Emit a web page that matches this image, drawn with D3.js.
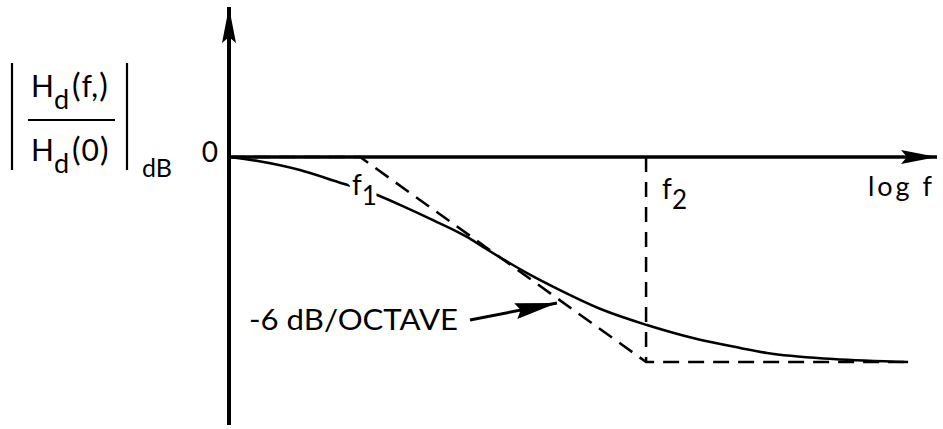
<!DOCTYPE html>
<html>
<head>
<meta charset="utf-8">
<script src="https://cdn.jsdelivr.net/npm/d3@7"></script>
<style>
  html, body { margin: 0; padding: 0; background: #fff; }
  svg { display: block; }
  text { font-family: Lato, "Noto Sans", sans-serif; fill: #000; }
</style>
</head>
<body>
<svg id="chart" width="943" height="429"></svg>
<script>
// Frequency axis in decades relative to f1 (log10(f/f1)); magnitude in dB.
const responseLogF = [-0.458, -0.357, -0.210, -0.077, 0.042, 0.157, 0.255, 0.374, 0.430,
                      0.584, 0.699, 0.850, 1.003, 1.164, 1.329, 1.423, 1.654, 1.916];
const responseDb   = [0, -0.39, -1.27, -2.44, -3.51, -4.88, -6.15, -7.80, -8.78,
                      -11.32, -12.98, -14.93, -16.39, -17.66, -18.63, -19.12, -19.71, -20.0];

// Straight-line (asymptotic) approximation
const asymptoteLogF = [-0.458, 0, 1, 1.916];
const asymptoteDb   = [0, 0, -20, -20];

// Break frequencies and their labels
const breakLogF   = [0, 1];
const breakLabels = ["f", "f"];
const breakSubs   = ["1", "2"];

const yTickDb    = [0];
const yTickLabel = ["0"];

const svg = d3.select("#chart");

const x = d3.scaleLinear().domain([-0.458, 2.017]).range([229, 937]);
const y = d3.scaleLinear().domain([0, -20]).range([157, 362]);
const yTop = 14.63, yBottom = -26.15;

const defs = svg.append("defs");
defs.append("marker")
  .attr("id", "axisHead").attr("viewBox", "0 0 36 14")
  .attr("refX", 36).attr("refY", 7)
  .attr("markerWidth", 36).attr("markerHeight", 14)
  .attr("markerUnits", "userSpaceOnUse").attr("orient", "auto")
  .append("path").attr("d", "M0,0 L36,7 L0,14 L6,7 Z").attr("fill", "#000");
defs.append("marker")
  .attr("id", "noteHead").attr("viewBox", "0 0 42 16")
  .attr("refX", 42).attr("refY", 8)
  .attr("markerWidth", 42).attr("markerHeight", 16)
  .attr("markerUnits", "userSpaceOnUse").attr("orient", "auto")
  .append("path").attr("d", "M0,0 L42,8 L0,16 L5,8 Z").attr("fill", "#000");

// Axes
svg.append("line")
  .attr("x1", x(-0.458)).attr("y1", y(yBottom))
  .attr("x2", x(-0.458)).attr("y2", y(yTop))
  .attr("stroke", "#000").attr("stroke-width", 4)
  .attr("marker-end", "url(#axisHead)");
svg.append("line")
  .attr("x1", x(-0.458)).attr("y1", y(0))
  .attr("x2", x(2.017)).attr("y2", y(0))
  .attr("stroke", "#000").attr("stroke-width", 3.5)
  .attr("marker-end", "url(#axisHead)");

// Asymptotes (dashed)
const asymPts = asymptoteLogF.map((v, i) => [v, asymptoteDb[i]]);
const line = d3.line().x(d => x(d[0])).y(d => y(d[1]));
svg.append("path")
  .attr("d", line(asymPts))
  .attr("fill", "none").attr("stroke", "#000")
  .attr("stroke-width", 2.5).attr("stroke-dasharray", "16,9");
svg.append("line")
  .attr("x1", x(breakLogF[1])).attr("y1", y(0))
  .attr("x2", x(breakLogF[1])).attr("y2", y(-20))
  .attr("stroke", "#000").attr("stroke-width", 2.5)
  .attr("stroke-dasharray", "15,10");

// Actual response
const respPts = responseLogF.map((v, i) => [v, responseDb[i]]);
svg.append("path")
  .attr("d", d3.line().x(d => x(d[0])).y(d => y(d[1])).curve(d3.curveMonotoneX)(respPts))
  .attr("fill", "none").attr("stroke", "#000").attr("stroke-width", 2.5);

// Break-frequency labels
const bl = svg.selectAll("text.brk").data(breakLogF).enter().append("text")
  .attr("class", "brk")
  .attr("x", (d, i) => x(d) + (i === 0 ? -8 : 16))
  .attr("y", (d, i) => i === 0 ? 195 : 199)
  .attr("font-size", 28)
  .style("paint-order", "stroke").attr("stroke", "#fff").attr("stroke-width", 10);
bl.append("tspan").text((d, i) => breakLabels[i]);
bl.append("tspan").attr("dy", 10).attr("font-size", 26).text((d, i) => breakSubs[i]);

svg.append("text").attr("x", 868).attr("y", 196).attr("font-size", 27)
  .attr("textLength", 64).attr("lengthAdjust", "spacing").text("log f");

// Y tick label
svg.selectAll("text.ytick").data(yTickDb).enter().append("text")
  .attr("class", "ytick")
  .attr("x", 218).attr("y", d => y(d) + 5)
  .attr("text-anchor", "end").attr("font-size", 28)
  .text((d, i) => yTickLabel[i]);

// Y axis title: |Hd(f)/Hd(0)| dB
const g = svg.append("g");
g.append("line").attr("x1", 12).attr("y1", 63).attr("x2", 12).attr("y2", 170)
  .attr("stroke", "#000").attr("stroke-width", 2.2);
g.append("line").attr("x1", 127).attr("y1", 63).attr("x2", 127).attr("y2", 170)
  .attr("stroke", "#000").attr("stroke-width", 2.2);
g.append("line").attr("x1", 28).attr("y1", 120).attr("x2", 115).attr("y2", 120)
  .attr("stroke", "#000").attr("stroke-width", 2);
const num = g.append("text").attr("x", 31).attr("y", 97).attr("font-size", 30);
num.append("tspan").text("H");
num.append("tspan").attr("dy", 12).attr("font-size", 27).text("d");
num.append("tspan").attr("dx", 3).attr("dy", -12).attr("font-size", 32).text("(");
num.append("tspan").attr("dx", 1).text("f,");
num.append("tspan").attr("dx", 1).attr("font-size", 32).text(")");
const den = g.append("text").attr("x", 31).attr("y", 161).attr("font-size", 30);
den.append("tspan").text("H");
den.append("tspan").attr("dy", 12).attr("font-size", 27).text("d");
den.append("tspan").attr("dx", 3).attr("dy", -12).attr("font-size", 32).text("(");
den.append("tspan").attr("dx", 1).text("0");
den.append("tspan").attr("dx", 1).attr("font-size", 32).text(")");
g.append("text").attr("x", 142).attr("y", 177).attr("font-size", 25).text("dB");

// Slope annotation
svg.append("text").attr("x", 249).attr("y", 330).attr("font-size", 29)
  .attr("textLength", 209).attr("lengthAdjust", "spacingAndGlyphs")
  .text("-6 dB/OCTAVE");
svg.append("line")
  .attr("x1", 470).attr("y1", 320).attr("x2", 557).attr("y2", 303)
  .attr("stroke", "#000").attr("stroke-width", 3)
  .attr("marker-end", "url(#noteHead)");
</script>
</body>
</html>
